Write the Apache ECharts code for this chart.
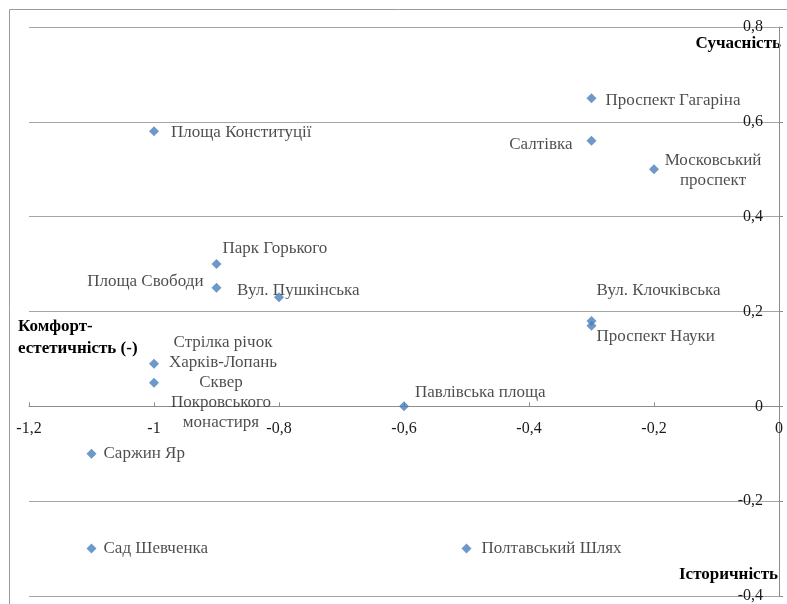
<!DOCTYPE html>
<html>
<head>
<meta charset="utf-8">
<script src="https://cdn.jsdelivr.net/npm/echarts@6/dist/echarts.min.js"></script>
<style>
    html, body { margin: 0; padding: 0; background: #fff; }
    #chart { width: 787px; height: 604px; }
</style>
</head>
<body>
<div id="chart"></div>
<script>
    // data
    var names = [
        'Площа Конституції', 'Проспект Гагаріна', 'Салтівка', 'Московський\nпроспект',
        'Парк Горького', 'Площа Свободи', 'Вул. Пушкінська', 'Вул. Клочківська',
        'Проспект Науки', 'Стрілка річок\nХарків-Лопань', 'Сквер\nПокровського\nмонастиря',
        'Павлівська площа', 'Саржин Яр', 'Сад Шевченка', 'Полтавський Шлях'
    ];
    var xValues = [-1, -0.3, -0.3, -0.2, -0.9, -0.9, -0.8, -0.3, -0.3, -1, -1, -0.6, -1.1, -1.1, -0.5];
    var yValues = [0.58, 0.65, 0.56, 0.5, 0.3, 0.25, 0.23, 0.18, 0.17, 0.09, 0.05, 0, -0.1, -0.3, -0.3];
    var xTicks = [-1.2, -1, -0.8, -0.6, -0.4, -0.2, 0];
    var yTicks = [-0.4, -0.2, 0, 0.2, 0.4, 0.6, 0.8];

    // where each label sits around its marker: [align, dx, dy]
    var labelPlace = [
        ['left', 17, 1], ['left', 14, 2], ['right', -19, 4], ['center', 59, 1],
        ['left', 6, -16], ['right', -13, -6], ['left', -42, -7], ['left', 5, -30],
        ['left', 5, 11], ['center', 69, -11], ['center', 67, 20],
        ['left', 11, -14], ['left', 12, 0], ['left', 12, 0], ['left', 15, 0]
    ];

    var serif = '"Liberation Serif", "Times New Roman", serif';
    var fmt = function (v) { return String(v).replace('.', ','); };

    var points = names.map(function (n, i) {
        var p = labelPlace[i];
        return {
            name: n,
            value: [xValues[i], yValues[i]],
            label: {
                show: true,
                position: 'inside',
                align: p[0],
                verticalAlign: 'middle',
                offset: [p[1], p[2]],
                formatter: '{b}'
            }
        };
    });

    var chart = echarts.init(document.getElementById('chart'));
    var option = {
        animation: false,
        grid: { left: 29, right: 8, top: 27, bottom: 8, containLabel: false, outerBoundsMode: 'none' },
        xAxis: {
            type: 'value',
            min: xTicks[0],
            max: xTicks[xTicks.length - 1],
            interval: 0.2,
            offset: 0,
            axisLine: { onZero: false, lineStyle: { color: '#8c8c8c' } },
            axisTick: { show: true, inside: true, length: 4, lineStyle: { color: '#8c8c8c' } },
            splitLine: { show: false },
            axisLabel: {
                margin: 14,
                color: '#1a1a1a',
                fontFamily: serif,
                fontSize: 16,
                formatter: fmt
            }
        },
        yAxis: {
            type: 'value',
            position: 'right',
            min: yTicks[0],
            max: yTicks[yTicks.length - 1],
            interval: 0.2,
            axisLine: { show: true, onZero: false, lineStyle: { color: '#8c8c8c' } },
            axisTick: { show: true, length: 4, lineStyle: { color: '#8c8c8c' } },
            splitLine: { show: true, lineStyle: { color: '#a6a6a6' } },
            axisLabel: {
                inside: true,
                margin: 16,
                color: '#1a1a1a',
                fontFamily: serif,
                fontSize: 16,
                formatter: fmt
            }
        },
        graphic: [
            {
                type: 'rect', left: 7, top: 7, silent: true,
                shape: { width: 820, height: 640 },
                style: { fill: 'none', stroke: '#9a9a9a', lineWidth: 1 }
            },
            {
                type: 'text', right: 6, top: 35,
                style: { text: 'Сучасність', font: 'bold 17px ' + serif, fill: '#000' }
            },
            {
                type: 'text', left: 18, top: 316,
                style: { text: 'Комфорт-\nестетичність (-)', font: 'bold 17px ' + serif, fill: '#000', lineHeight: 22 }
            },
            {
                type: 'text', right: 9, top: 566,
                style: { text: 'Історичність', font: 'bold 17px ' + serif, fill: '#000' }
            }
        ],
        series: [{
            type: 'scatter',
            symbol: 'diamond',
            symbolSize: 10,
            itemStyle: { color: '#4a7ebb' },
            label: {
                color: '#1f1f1f',
                fontFamily: serif,
                fontSize: 17,
                lineHeight: 20
            },
            data: points
        }]
    };
    chart.setOption(option);

    // x axis sits on y = 0, so shift it up from the grid bottom
    var yZero = chart.convertToPixel({ yAxisIndex: 0 }, 0);
    var yBottom = chart.convertToPixel({ yAxisIndex: 0 }, yTicks[0]);
    chart.setOption({ xAxis: { offset: -(yBottom - yZero) } });
</script>
</body>
</html>
